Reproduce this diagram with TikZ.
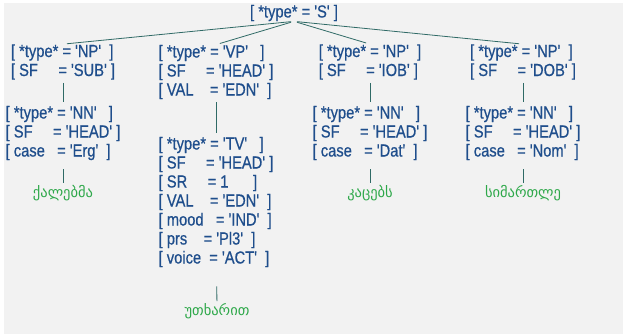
\documentclass[tikz,border=0pt]{standalone}
\usepackage{fontspec}
\setmainfont{Liberation Sans}
\newfontfamily\featfont[FakeStretch=0.84,FakeBold=0.6]{Liberation Sans}
\newfontfamily\geofont{DejaVu Sans}
\usetikzlibrary{positioning}
\definecolor{featblue}{HTML}{1F4E8C}
\definecolor{leafgreen}{HTML}{2EA84A}
\definecolor{edgeteal}{HTML}{2F6A66}
\definecolor{bggray}{HTML}{F2F2F2}
\newcommand{\fl}{\\\relax}

\begin{document}
\begin{tikzpicture}[
    x=1pt, y=-1pt,
    feat/.style={inner sep=0pt, align=left, text=featblue, font=\featfont\fontsize{17.5}{19}\selectfont},
    leaf/.style={inner sep=0pt, text=leafgreen, font=\geofont\fontsize{14.5}{16}\selectfont},
    edge/.style={draw=edgeteal, line width=0.8pt, shorten <=3pt, shorten >=4pt},
    leafedge/.style={edge, shorten <=9pt, shorten >=2pt}
]
\useasboundingbox (0,0) rectangle (623,334);
\fill[white] (0,0) rectangle (623,334);
\fill[bggray] (4,3) rectangle (623,334);

% Nodes
\node[feat] (s) at (294,13) {[ *type* = 'S' ]};

\node[feat] (npsub) at (63,62) {[ *type* = 'NP'~~]\fl[ SF~~~~~= 'SUB' ]};
\node[feat] (nnerg) at (63,133) {[ *type* = 'NN'~~~]\fl[ SF~~~~~= 'HEAD' ]\fl[ case~~~= 'Erg'~~]};
\node[leaf] (wsub) at (63,193) {ქალებმა};

\node[feat] (vp) at (216,72) {[ *type* = 'VP'~~~]\fl[ SF~~~~~= 'HEAD' ]\fl[ VAL~~~~= 'EDN'~~]};
\node[feat] (tv) at (216,202) {[ *type* = 'TV'~~~]\fl[ SF~~~~~= 'HEAD' ]\fl[ SR~~~~~= 1~~~~~~]\fl[ VAL~~~~= 'EDN'~~]\fl[ mood~~~= 'IND'~~]\fl[ prs~~~~= 'Pl3'~~]\fl[ voice~~= 'ACT'~~]};
\node[leaf] (wverb) at (217,311) {უთხარით};

\node[feat] (npiob) at (370,62) {[ *type* = 'NP'~~]\fl[ SF~~~~~= 'IOB' ]};
\node[feat] (nndat) at (370,133) {[ *type* = 'NN'~~~]\fl[ SF~~~~~= 'HEAD' ]\fl[ case~~~= 'Dat'~~]};
\node[leaf] (wiob) at (370,193) {კაცებს};

\node[feat] (npdob) at (523,62) {[ *type* = 'NP'~~]\fl[ SF~~~~~= 'DOB' ]};
\node[feat] (nnnom) at (523,133) {[ *type* = 'NN'~~~]\fl[ SF~~~~~= 'HEAD' ]\fl[ case~~~= 'Nom'~~]};
\node[leaf] (wdob) at (523,193) {სიმართლე};

% Edges
\foreach \child in {npsub, vp, npiob, npdob}
  \draw[edge] (s.south) -- (\child.north);
\draw[edge] (npsub) -- (nnerg);
\draw[edge] (vp) -- (tv);
\draw[edge] (npiob) -- (nndat);
\draw[edge] (npdob) -- (nnnom);
\draw[leafedge] (nnerg) -- (wsub);
\draw[leafedge, shorten <=19pt] (tv) -- (wverb);
\draw[leafedge] (nndat) -- (wiob);
\draw[leafedge] (nnnom) -- (wdob);

\end{tikzpicture}
\end{document}
